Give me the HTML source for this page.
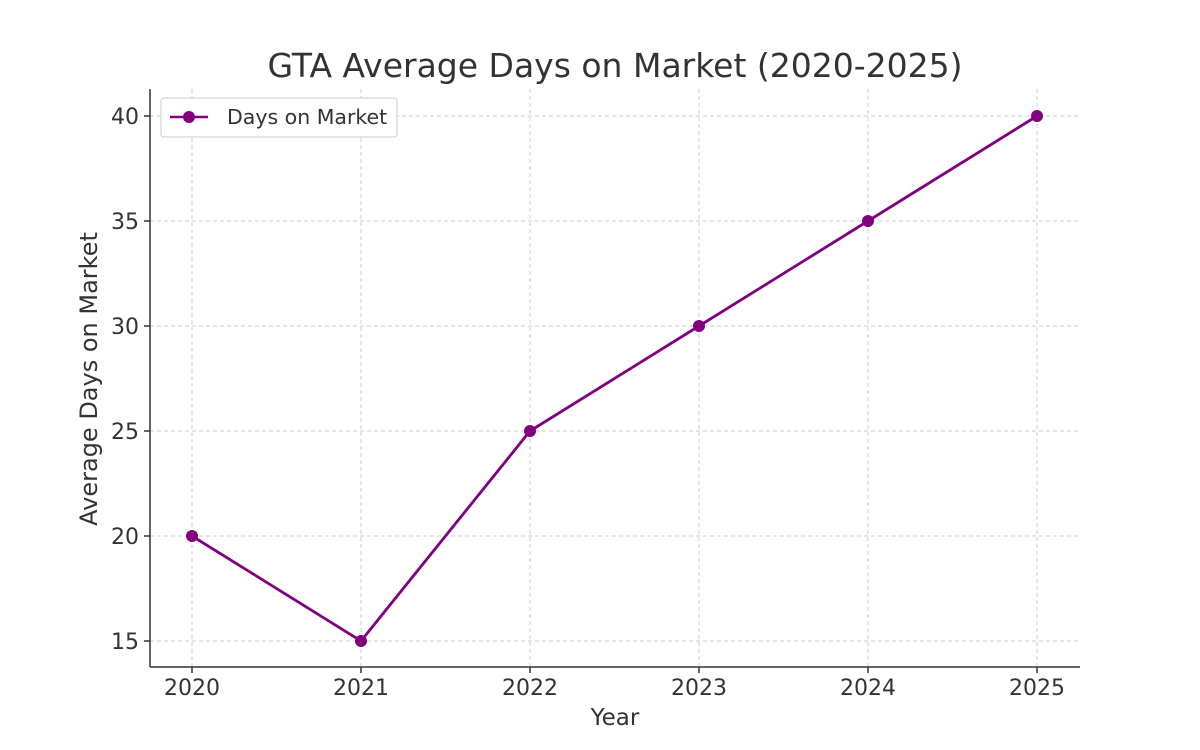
<!DOCTYPE html>
<html><head><meta charset="utf-8"><style>
html,body{margin:0;padding:0;background:#fff;}
svg{display:block;font-family:"DejaVu Sans","Liberation Sans",sans-serif;}
</style></head><body>
<svg id="chart" width="1200" height="750" viewBox="0 0 1200 750">
<text x="615" y="77" text-anchor="middle" font-size="33" fill="#333">GTA Average Days on Market (2020-2025)</text>
<g id="grid"></g>
<g id="axes">
<line x1="150" y1="89" x2="150" y2="667" stroke="#333" stroke-width="1.5"/>
<line x1="150" y1="667" x2="1080" y2="667" stroke="#333" stroke-width="1.5"/>
</g>
<g id="ticks"></g>
<g id="series"></g>
<text x="615" y="725" text-anchor="middle" font-size="23" fill="#333">Year</text>
<text transform="translate(97,379) rotate(-90)" text-anchor="middle" font-size="24" fill="#333">Average Days on Market</text>
<g>
<rect x="161" y="98" width="236" height="39" rx="3" fill="#fff" stroke="#ccc"/>
<line x1="170" y1="117" x2="208" y2="117" stroke="#800080" stroke-width="2.5"/>
<circle cx="189" cy="117" r="6" fill="#800080"/>
<text x="227" y="124" font-size="20.5" fill="#333">Days on Market</text>
</g>
</svg>
<script>
const categories = ["2020","2021","2022","2023","2024","2025"];
const values = [20,15,25,30,35,40];
const yTicks = [15,20,25,30,35,40];
const NS="http://www.w3.org/2000/svg";
function xScale(i){return 192+i*169;}
function yScale(v){return 641-(v-15)*21;}
function mk(tag,attrs,parent){const e=document.createElementNS(NS,tag);for(const k in attrs)e.setAttribute(k,attrs[k]);parent.appendChild(e);return e;}
const grid=document.getElementById('grid'),ticks=document.getElementById('ticks'),series=document.getElementById('series');
yTicks.forEach(v=>{
  const y=yScale(v);
  const g=mk('line',{x1:150,x2:1080,y1:y,y2:y,stroke:'#ccc','stroke-dasharray':'4,3','stroke-width':1},grid);
  
  
  const t=mk('line',{x1:144,x2:150,y1:y,y2:y,stroke:'#333','stroke-width':1.5},ticks);
  
  
  const l=mk('text',{x:139,y:y+8,'text-anchor':'end','font-size':22,fill:'#333'},ticks);
  l.textContent=v;
  
  
});
categories.forEach((c,i)=>{
  const x=xScale(i);
  const g=mk('line',{x1:x,x2:x,y1:89,y2:667,stroke:'#ccc','stroke-dasharray':'4,3','stroke-width':1},grid);
  
  
  const t=mk('line',{x1:x,x2:x,y1:667,y2:673,stroke:'#333','stroke-width':1.5},ticks);
  
  
  const l=mk('text',{x:x,y:695,'text-anchor':'middle','font-size':22,fill:'#333'},ticks);
  l.textContent=c;
  
  
});
const pts=values.map((v,i)=>xScale(i)+','+yScale(v)).join(' ');
const pl=mk('polyline',{points:pts,fill:'none',stroke:'#800080','stroke-width':2.8,'stroke-linejoin':'round'},series);


values.forEach((v,i)=>{
  const c=mk('circle',{cx:xScale(i),cy:yScale(v),r:6,fill:'#800080'},series);
  
  
});
</script>
</body></html>
